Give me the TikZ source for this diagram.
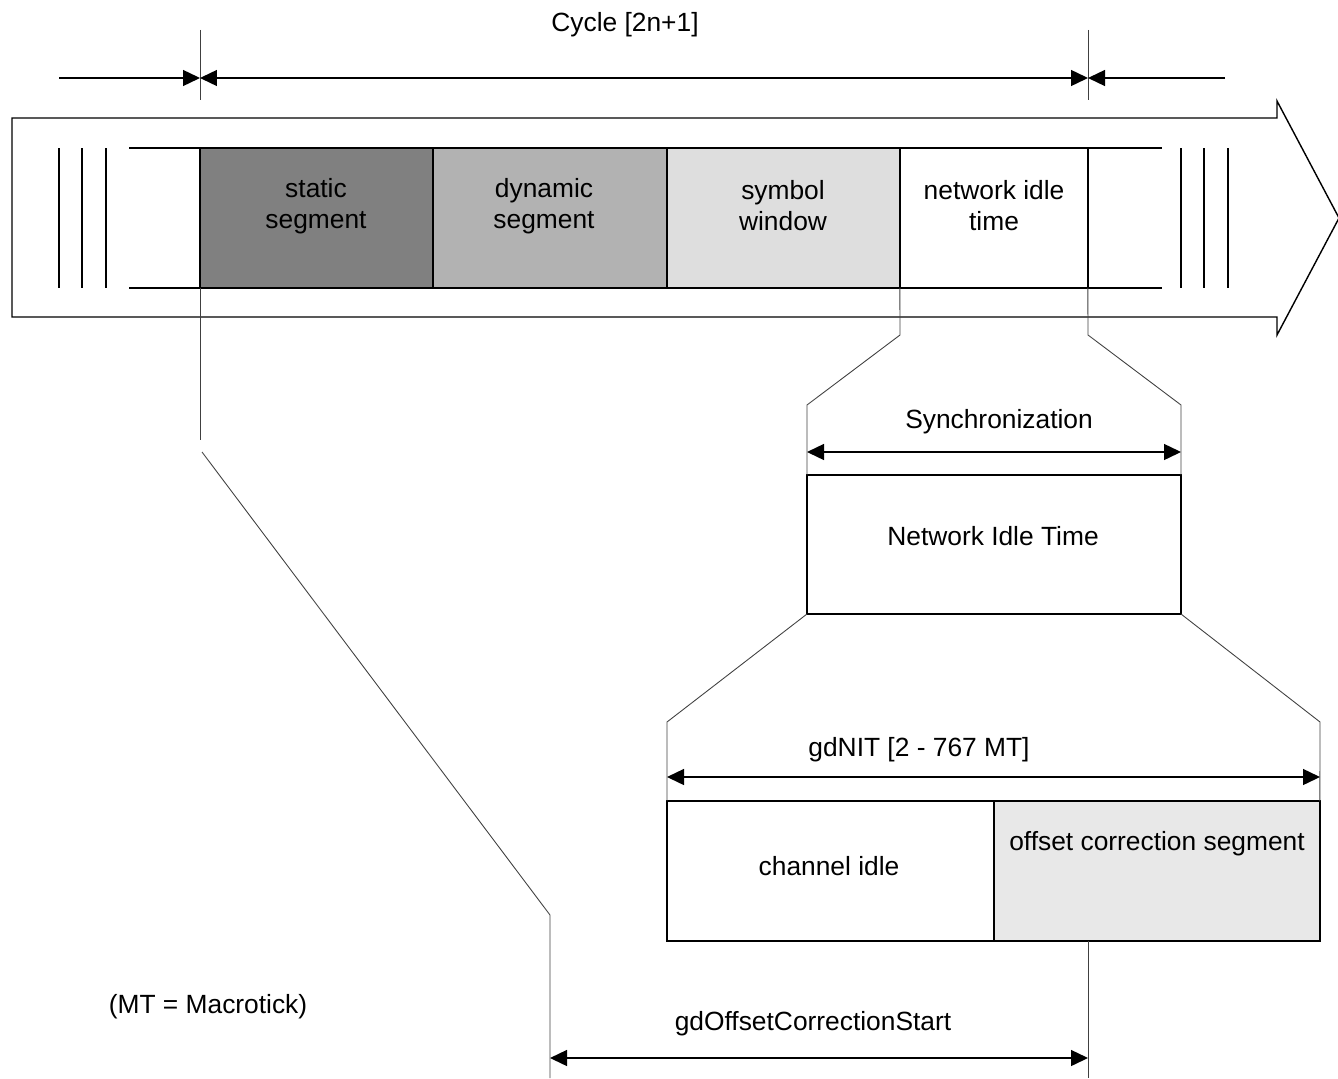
\documentclass[tikz,border=0pt]{standalone}
\usepackage{fontspec}
\setmainfont{Liberation Sans}
\usetikzlibrary{arrows.meta,positioning}
\tikzset{>={Triangle[length=3.4mm,width=3.2mm]}}
\tikzset{
  txt/.style     = {inner sep=0pt, align=center, font=\fontsize{15}{17.6}\selectfont},
  box/.style     = {draw, line width=1.1pt},
  segbox/.style  = {box, inner sep=0pt, outer sep=0pt, minimum height=2.8cm, anchor=north west},
  guide/.style   = {line width=0.5pt, black!75},
  dim/.style     = {line width=0.8pt},
  band/.style    = {line width=0.8pt}
}

\begin{document}
\begin{tikzpicture}[x=0.02cm,y=-0.02cm]
  \useasboundingbox (0,0) rectangle (1338,1078);
  % cycle arrow
  \draw[band] (12,118) -- (1277,118) -- (1277,101) -- (1339,218)
              -- (1277,335) -- (1277,317) -- (12,317) -- cycle;
  \draw[box] (129,148) -- (1162,148);
  \draw[box] (129,288) -- (1162,288);
  \foreach \x in {59,82,106,1181,1204,1228}
    \draw[box] (\x,148) -- (\x,288);
  % segments of the cycle
  \node[segbox,fill=black!50,minimum width=4.66cm] (static) at (200,148) {};
  \node[segbox,fill=black!30,minimum width=4.68cm,right=0pt of static] (dynamic) {};
  \node[segbox,fill=black!13,minimum width=4.66cm,right=0pt of dynamic] (symbol) {};
  \node[segbox,fill=white,minimum width=3.76cm,right=0pt of symbol] (nit) {};
  \node[txt] (staticTxt) at (316,206) {static\\segment};
  \node[txt] (dynamicTxt) at (544,206) {dynamic\\segment};
  \node[txt] (symbolTxt) at (783,206) {symbol\\window};
  \node[txt] (nitTxt) at (994,206) {network idle\\time};
  % cycle length
  \coordinate (cycS) at (200,30);
  \coordinate (cycE) at (1088,30);
  \coordinate (cycL) at (59,78);
  \coordinate (cycA) at (200,78);
  \coordinate (cycB) at (1088,78);
  \coordinate (cycR) at (1225,78);
  \draw[guide] (cycS) -- (200,100);
  \draw[guide] (cycE) -- (1088,100);
  \draw[dim,->] (cycL) -- (cycA);
  \draw[dim,<->] (cycA) -- (cycB);
  \draw[dim,->] (cycR) -- (cycB);
  \node[txt] (cycle) at (625,25) {Cycle [2n+1]};
  % network idle time
  \node[segbox,minimum width=7.48cm,minimum height=2.78cm] (nitBig) at (807,475) {};
  \node[txt] (nitBigTxt) at (993,536) {Network Idle Time};
  \draw[guide] (symbol.south east) -- (900,335) -- (807,405) -- (nitBig.north west);
  \draw[guide] (nit.south east) -- (1088,335) -- (1181,405) -- (nitBig.north east);
  \coordinate (syncL) at (807,452);
  \coordinate (syncR) at (1181,452);
  \draw[dim,<->] (syncL) -- (syncR);
  \node[txt] (sync) at (999,422) {Synchronization};
  % gdNIT
  \node[segbox,minimum width=6.54cm] (idle) at (667,801) {};
  \node[segbox,fill=black!9,minimum width=6.52cm,right=0pt of idle] (offset) {};
  \node[txt] (idleTxt) at (829,866) {channel idle};
  \node[txt] (offsetTxt) at (1157,844) {offset correction segment};
  \draw[guide] (nitBig.south west) -- (667,722) -- (idle.north west);
  \draw[guide] (nitBig.south east) -- (1320,722) -- (offset.north east);
  \coordinate (nitL) at (667,777);
  \coordinate (nitR) at (1320,777);
  \draw[dim,<->] (nitL) -- (nitR);
  \node[txt] (gdNIT) at (919,750) {gdNIT [2 - 767 MT]};
  % offset correction start
  \draw[guide] (static.south west) -- (200,440);
  \draw[guide] (202,452) -- (550,915) -- (550,1078);
  \draw[guide] (1088,941) -- (1088,1078);
  \coordinate (ocsL) at (550,1058);
  \coordinate (ocsR) at (1088,1058);
  \draw[dim,<->] (ocsL) -- (ocsR);
  \node[txt] (ocs) at (813,1024) {gdOffsetCorrectionStart};
  \node[txt] (mt) at (208,1007) {(MT = Macrotick)};
\end{tikzpicture}
\end{document}
